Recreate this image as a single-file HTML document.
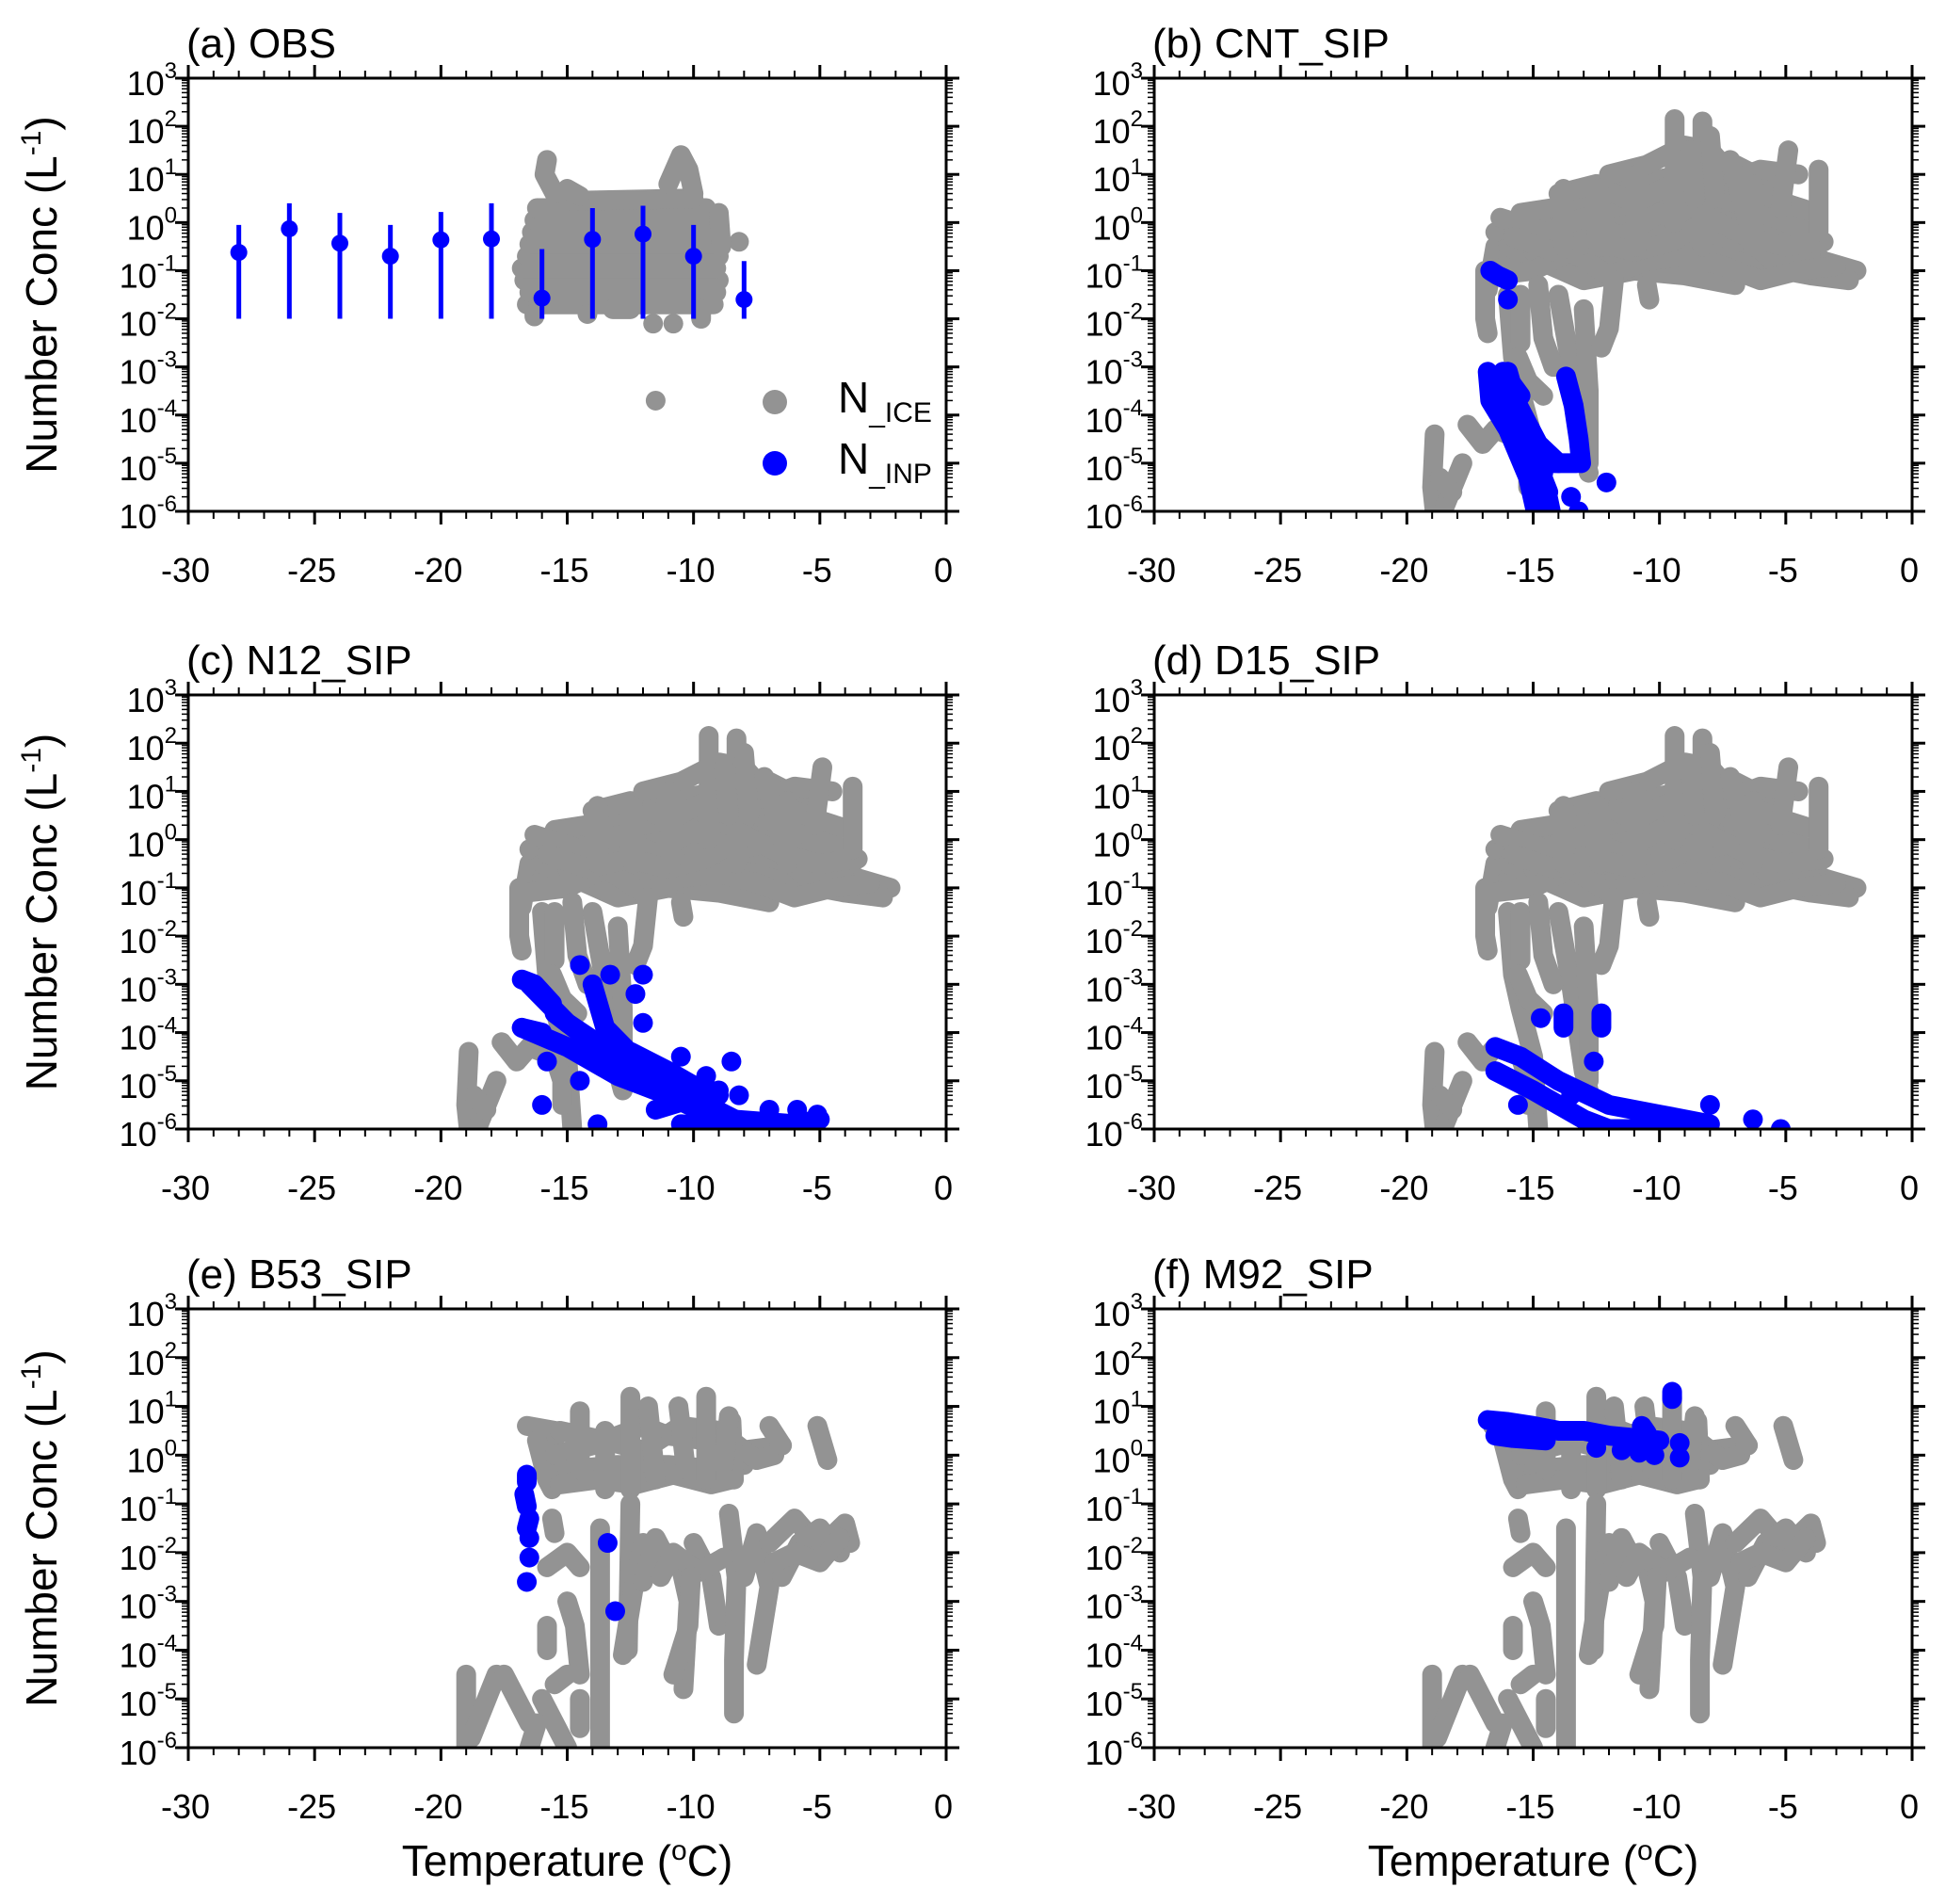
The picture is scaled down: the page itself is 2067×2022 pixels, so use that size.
<!DOCTYPE html>
<html><head><meta charset="utf-8">
<style>
html,body{margin:0;padding:0;background:#fff;}
svg{display:block;font-family:"Liberation Sans",Arial,sans-serif;}
</style></head>
<body>
<svg id="fig" width="2067" height="2022" viewBox="0 0 2067 2022" xmlns="http://www.w3.org/2000/svg"></svg>
<script>
// ---------- data (Temperature degC, log10 number conc L^-1) ----------
const xTicks = [-30,-25,-20,-15,-10,-5,0];
const yTicks = [3,2,1,0,-1,-2,-3,-4,-5,-6];
const panelTitles = ["(a) OBS","(b) CNT_SIP","(c) N12_SIP","(d) D15_SIP","(e) B53_SIP","(f) M92_SIP"];

// OBS INP error bars
const obsT = [-28,-26,-24,-22,-20,-18,-16,-14,-12,-10,-8];
const obsMid = [-0.62,-0.13,-0.43,-0.70,-0.36,-0.34,-1.57,-0.35,-0.24,-0.70,-1.60];
const obsHi = [-0.05,0.40,0.20,-0.05,0.22,0.40,-0.55,0.30,0.35,-0.05,-0.80];
const obsLo = [-2,-2,-2,-2,-2,-2,-2,-2,-2,-2,-2];

// OBS ice tracks
const iceObs = [
 [[-16.6,-1.7],[-9.2,-1.7]],[[-16.5,-1.45],[-9.1,-1.45]],[[-16.7,-1.2],[-9.0,-1.2]],
 [[-16.8,-0.95],[-9.1,-0.95]],[[-16.6,-0.7],[-9.0,-0.7]],[[-16.5,-0.45],[-9.2,-0.45]],
 [[-16.4,-0.2],[-9.3,-0.2]],[[-16.3,0.05],[-9.4,0.05]],[[-16.2,0.3],[-9.5,0.3]],
 [[-15.0,0.45],[-10.0,0.5]],[[-16.3,-1.95],[-16.3,-1.9]],[[-15.8,1.3],[-15.9,1.0],[-15.5,0.6]],
 [[-15.0,0.7],[-14.5,0.55]],[[-11.0,0.8],[-10.5,1.4],[-10.2,1.1],[-10.0,0.6]],
 [[-11.5,-3.7],[-11.5,-3.7]],[[-11.6,-2.1],[-11.6,-2.1]],[[-10.8,-2.1],[-10.8,-2.1]],
 [[-9.7,-2.0],[-9.7,-1.8]],[[-8.2,-0.4],[-8.2,-0.4]],[[-9.0,0.2],[-8.9,-0.5]],[[-14.2,-1.9],[-14.2,-1.9]],[[-13.2,-1.8],[-12.5,-1.8]]
];

// model ice tracks for b,c,d
const iceBCD = [
 [[-16.8,-1.4],[-16.5,-0.5],[-15,-0.3],[-13,-0.2],[-11,0],[-9,0.3],[-7,0.2],[-5,-0.3],[-3.5,-0.8],[-2.2,-1.0]],
 [[-16.5,-0.2],[-14,0.0],[-12,0.3],[-10,0.5],[-8,0.6],[-6,0.2],[-4,-0.2]],
 [[-16,-0.8],[-14,-0.9],[-12,-0.7],[-10,-0.4],[-8,-0.6],[-6,-0.9],[-4,-1.1],[-2.5,-1.2]],
 [[-15.5,0.2],[-13,0.4],[-11,0.8],[-9,1.0],[-7,1.2],[-5.5,0.8]],
 [[-16,-0.5],[-13,-1.2],[-11,-1.0],[-9,-1.1],[-7,-1.3]],
 [[-15,-0.6],[-12,-0.5],[-9,-0.1],[-6,-0.5],[-4.5,-0.7]],
 [[-16.3,0.1],[-14.5,-0.2],[-13,0.1],[-11.5,-0.3],[-10,0.2],[-8.5,-0.2],[-7,-0.1],[-5.5,-0.8],[-4,-0.6]],
 [[-16.6,-1.1],[-15,-1.0],[-13.5,-0.6],[-12,-1.1],[-10.5,-0.8],[-9,-0.7],[-7.5,-0.9],[-6,-1.2],[-4.5,-1.0],[-3,-0.9]],
 [[-14,0.6],[-12.5,0.8],[-11,0.4],[-9.5,0.8],[-8,1.0],[-6.5,0.7],[-5,0.4],[-3.8,0.2]],
 [[-12,1.0],[-10.5,1.2],[-9,1.6],[-8,1.5],[-7,0.9],[-6,1.1],[-4.5,1.0]],
 [[-15.8,-0.3],[-14.2,-0.6],[-12.5,-0.4],[-11,-0.6],[-9.5,-0.4],[-8,0.1],[-6.5,-0.3],[-5,-0.5],[-3.5,-0.4]],
 [[-9.4,2.15],[-9.4,0]],[[-8.3,2.1],[-8.3,-0.5]],[[-8,1.8],[-7.8,0.5]],[[-10.9,1.0],[-10.9,-0.5]],
 [[-13.8,0.7],[-13.8,-0.5]],[[-12.4,0.7],[-12.4,-0.5]],[[-7.2,1.3],[-6.5,0]],[[-4.9,1.5],[-5.2,0.3]],
 [[-3.7,1.1],[-3.7,-0.2]],[[-6.3,0.8],[-6.3,-0.5]],[[-8.8,1.5],[-8.6,0.5]],
 [[-16,-1.5],[-15.8,-2.8],[-15.5,-3.5],[-15,-4.5],[-14.8,-6]],
 [[-14,-1.5],[-13.5,-3.0],[-13,-4.8],[-12.8,-5.2]],
 [[-13,-1.8],[-12.8,-3.5],[-12.8,-5]],[[-15.5,-1.5],[-15.5,-2.5]],
 [[-14.8,-1.3],[-14.6,-2.4],[-14.2,-3.0]],[[-15.6,-2.8],[-15.2,-3.3],[-14.6,-3.6]],
 [[-11.8,-1.2],[-12,-2.2],[-12.3,-2.6]],[[-16.9,-1.0],[-16.9,-2.0],[-16.8,-2.3]],
 [[-10.5,-1.3],[-10.4,-1.6]],
 [[-18.9,-4.4],[-19,-5.5],[-18.9,-6]],[[-18.5,-5.9],[-17.8,-5.0]],
 [[-17.6,-4.2],[-17,-4.6],[-16.5,-4.3],[-15.5,-4.5],[-15.2,-5.0],[-15.2,-5.5]],
 [[-18.7,-5.3],[-18.2,-5.6]]
];

// model ice tracks for e,f
const iceEF = [
 [[-16.6,0.6],[-15.5,0.5],[-15.5,-0.5]],[[-16.2,0.3],[-15.8,-0.5],[-15.6,-0.7]],
 [[-15.5,0.0],[-14,0.2],[-12,0.6],[-11,0.4],[-9.5,0.3],[-8,0.1],[-6.5,0.2]],
 [[-15,-0.3],[-13,-0.2],[-11,-0.2],[-9,-0.3],[-8,-0.2]],
 [[-15.3,0.5],[-13.5,0.3],[-12,0.1],[-10.5,0.6],[-9,0.5],[-7.5,-0.1],[-6.8,0.0]],
 [[-15.3,-0.6],[-13.8,-0.5],[-12.3,-0.6],[-10.8,-0.4],[-9.3,-0.6],[-8.5,-0.5]],
 [[-14.5,0.9],[-14.5,-0.3]],[[-12.5,1.2],[-12.5,-0.7]],[[-11.8,1.0],[-11.5,-0.5]],
 [[-9.5,1.2],[-9.5,-0.5]],[[-10.6,1.0],[-10.3,-0.3]],[[-8.5,0.7],[-8.4,-0.5]],
 [[-7,0.6],[-6.5,0.2]],[[-5.1,0.6],[-4.7,-0.1]],[[-13.5,0.5],[-13.5,-0.7]],[[-8.6,0.8],[-8.8,-0.2]],
 [[-13.7,-1.5],[-13.7,-6]],[[-12.5,-1.0],[-12.6,-4.0]],[[-12,-1.8],[-12.3,-2.5],[-12.8,-4.1]],
 [[-12,-2.6],[-11.5,-1.7],[-11,-2.2],[-10.5,-2.3],[-10.2,-3.0],[-10.4,-4.8]],
 [[-10,-1.8],[-9.3,-2.5],[-9,-3.5]],[[-8.6,-1.2],[-8.3,-2.5],[-8.4,-4.2],[-8.4,-5.3]],
 [[-8,-2.5],[-7.5,-1.6],[-7,-2.7],[-7.5,-4.3]],
 [[-7,-1.8],[-6,-1.3],[-5,-1.9],[-4,-1.4],[-3.8,-1.8]],[[-6.5,-2.5],[-5.8,-1.8],[-5,-1.5],[-4.2,-2.0]],
 [[-6.8,-2.2],[-6,-2.0],[-5,-2.2],[-4.2,-1.7]],[[-11.3,-2.5],[-10.8,-2.0],[-9.8,-2.4],[-8.8,-2.1]],
 [[-15.8,-2.3],[-15,-2.0],[-14.5,-2.3]],[[-15.6,-1.3],[-15.5,-1.6]],[[-15,-3.0],[-14.7,-3.5],[-14.5,-4.5]],
 [[-15.8,-3.5],[-15.8,-4.0]],[[-15.5,-4.7],[-15.0,-4.5]],[[-10.8,-4.5],[-10.2,-3.5],[-10.1,-2.5]],
 [[-19,-4.5],[-19,-6]],[[-18.8,-5.8],[-17.8,-4.5]],[[-17.5,-4.5],[-16.5,-5.5]],[[-16,-5],[-15,-6]],
 [[-16.2,-5.5],[-16.5,-6]],[[-14.5,-5.0],[-14.5,-5.6]]
];

// INP tracks / points
const inpB = [
 [[-16.7,-1.0],[-16.4,-1.1],[-16.0,-1.2]],[[-16.0,-1.6],[-16.0,-1.6]],
 [[-16.8,-3.1],[-16.7,-3.7],[-16,-4.3],[-15.2,-5.3],[-14.9,-6]],
 [[-16,-3.1],[-15.3,-4.4],[-14.6,-5.2]],[[-16.2,-3.1],[-15.5,-3.6]],
 [[-16.5,-3.3],[-15.8,-4.0],[-15.0,-4.8],[-14.4,-5.6]],[[-15.6,-3.8],[-14.8,-4.6],[-14.0,-5.0]],
 [[-13.7,-3.2],[-13.4,-3.8],[-13.2,-4.5],[-13.1,-5.0]],[[-14.2,-5.0],[-13.3,-5.0]],
 [[-14.5,-5.5],[-14.3,-6]],[[-12.1,-5.4],[-12.1,-5.4]],[[-14.8,-5.6],[-14.8,-5.6]],
 [[-13.5,-5.7],[-13.5,-5.7]],[[-13.2,-6],[-13.2,-6]]
];
const inpC = [
 [[-16.8,-2.9],[-16.3,-3.0],[-15.6,-3.4]],[[-16.8,-3.9],[-16,-4.0]],
 [[-16.8,-3.9],[-15,-4.3],[-13,-4.9],[-11,-5.3],[-9,-5.8],[-7,-6]],
 [[-16.5,-3.0],[-15,-3.8],[-13,-4.5],[-11,-5.0],[-9.5,-5.5],[-8,-5.9]],
 [[-14,-3.0],[-13.5,-3.9],[-12,-4.7],[-10,-5.5],[-8.5,-5.8],[-6,-5.9],[-5,-5.8]],
 [[-15.5,-3.6],[-14,-4.2],[-12.5,-4.4],[-11,-4.8],[-10,-5.1],[-9,-5.3]],
 [[-10.5,-5.9],[-8,-6]],[[-11.5,-5.6],[-9,-5.2]],
 [[-13.3,-2.8],[-13.3,-2.8]],[[-12,-2.8],[-12,-2.8]],[[-12.3,-3.2],[-12.3,-3.2]],[[-14.5,-2.6],[-14.5,-2.6]],
 [[-12,-3.8],[-12,-3.8]],[[-9.5,-4.9],[-9.5,-4.9]],[[-8.2,-5.3],[-8.2,-5.3]],[[-7,-5.6],[-7,-5.6]],
 [[-5.9,-5.6],[-5.9,-5.6]],[[-5.1,-5.7],[-5.1,-5.7]],[[-16,-5.5],[-16,-5.5]],[[-14.5,-5.0],[-14.5,-5.0]],
 [[-13.8,-5.9],[-13.8,-5.9]],[[-15.8,-4.6],[-15.8,-4.6]],[[-8.5,-4.6],[-8.5,-4.6]],[[-10.5,-4.5],[-10.5,-4.5]]
];
const inpD = [
 [[-16.5,-4.3],[-15.5,-4.5],[-14,-5.0],[-12,-5.5],[-10,-5.7],[-8,-5.9]],
 [[-16.5,-4.8],[-15,-5.2],[-13,-5.8],[-12,-6]],[[-12.8,-6],[-9,-6]],
 [[-14.7,-3.7],[-14.7,-3.7]],[[-13.8,-3.6],[-13.8,-3.9]],[[-12.3,-3.6],[-12.3,-3.9]],
 [[-12.6,-4.6],[-12.6,-4.6]],[[-15.6,-5.5],[-15.6,-5.5]],[[-13.5,-5.3],[-13.5,-5.3]],
 [[-6.3,-5.8],[-6.3,-5.8]],[[-5.2,-6],[-5.2,-6]],[[-8,-5.5],[-8,-5.5]]
];
const inpE = [
 [[-16.6,-0.4],[-16.6,-0.55]],[[-16.7,-0.8],[-16.6,-1.05]],[[-16.5,-1.3],[-16.6,-1.5]],
 [[-16.5,-1.7],[-16.5,-1.7]],[[-16.5,-2.1],[-16.5,-2.1]],[[-16.6,-2.6],[-16.6,-2.6]],
 [[-13.4,-1.8],[-13.4,-1.8]],[[-13.1,-3.2],[-13.1,-3.2]]
];
const inpF = [
 [[-16.8,0.72],[-16,0.68],[-15,0.6],[-14,0.5],[-13,0.5],[-12,0.4],[-11,0.35],[-10,0.3]],
 [[-16.5,0.4],[-15.8,0.35],[-14.5,0.3]],[[-12.5,0.15],[-12.5,0.15]],[[-11.5,0.1],[-11.5,0.1]],
 [[-10.8,0.05],[-10.8,0.05]],[[-10.2,0],[-10.2,0]],[[-9.2,-0.05],[-9.2,-0.05]],
 [[-9.5,1.3],[-9.5,1.15]],[[-9.2,0.25],[-9.2,0.25]],[[-10.7,0.6],[-10.5,0.45]],[[-14.5,0.55],[-14.5,0.55]]
];

const iceSets = [iceObs, iceBCD, iceBCD, iceBCD, iceEF, iceEF];
const inpSets = [null, inpB, inpC, inpD, inpE, inpF];

// ---------- layout ----------
const NS = "http://www.w3.org/2000/svg";
const svg = document.getElementById('fig');
const colX = [200, 1226], W = 805;
const rowY = [[83,543],[738,1199],[1390,1856]];
const GRAY = "#939393", BLUE = "#0000ff", DOT = 21;

function mk(tag, attrs, parent){
  const e = document.createElementNS(NS, tag);
  for (const k in attrs) e.setAttribute(k, attrs[k]);
  (parent||svg).appendChild(e); return e;
}

for (let p = 0; p < 6; p++) {
  const col = p % 2, row = Math.floor(p / 2);
  const x0 = colX[col], x1 = x0 + W, y0 = rowY[row][0], y1 = rowY[row][1];
  const sx = t => x0 + (t + 30) / 30 * W;
  const sy = l => y1 - (l + 6) / 9 * (y1 - y0);
  const g = mk('g', {});
  
  

  const clip = mk('clipPath', {id: 'clip' + p}, g);
  mk('rect', {x: x0, y: y0, width: W, height: y1 - y0}, clip);
  const plot = mk('g', {'clip-path': 'url(#clip' + p + ')'}, g);

  iceSets[p].forEach(tr => {
    const pl = mk('polyline', {points: tr.map(q => sx(q[0]) + ',' + sy(q[1])).join(' '),
      fill: 'none', stroke: GRAY, 'stroke-width': DOT, 'stroke-linecap': 'round', 'stroke-linejoin': 'round'}, plot);
    
    
  });
  if (p === 0) {
    obsT.forEach((t, i) => {
      const ln = mk('line', {x1: sx(t), x2: sx(t), y1: sy(obsLo[i]), y2: sy(obsHi[i]), stroke: BLUE, 'stroke-width': 5}, plot);
      
      
      const c = mk('circle', {cx: sx(t), cy: sy(obsMid[i]), r: 9, fill: BLUE}, plot);
      
      
    });
  } else {
    inpSets[p].forEach(tr => {
      const pl = mk('polyline', {points: tr.map(q => sx(q[0]) + ',' + sy(q[1])).join(' '),
        fill: 'none', stroke: BLUE, 'stroke-width': DOT, 'stroke-linecap': 'round', 'stroke-linejoin': 'round'}, plot);
      
      
    });
  }

  const fr = mk('rect', {x: x0, y: y0, width: W, height: y1 - y0, fill: 'none', stroke: '#000', 'stroke-width': 3}, g);
  
  

  for (let t = -30; t <= 0; t++) {
    const maj = t % 5 === 0, L = maj ? 14 : 8, X = sx(t);
    mk('line', {x1: X, x2: X, y1: y1, y2: y1 + L, stroke: '#000', 'stroke-width': maj ? 3 : 2}, g);
    mk('line', {x1: X, x2: X, y1: y0, y2: y0 - L, stroke: '#000', 'stroke-width': maj ? 3 : 2}, g);
  }
  xTicks.forEach(t => {
    const tx = mk('text', {x: sx(t) - 3, y: y1 + 75, 'font-size': 36, 'text-anchor': 'middle', fill: '#000'}, g);
    tx.textContent = String(t);
    
    
  });
  for (let d = -6; d <= 3; d++) {
    const Y = sy(d);
    mk('line', {x1: x0, x2: x0 - 14, y1: Y, y2: Y, stroke: '#000', 'stroke-width': 3}, g);
    mk('line', {x1: x1, x2: x1 + 14, y1: Y, y2: Y, stroke: '#000', 'stroke-width': 3}, g);
    if (d < 3) for (let m = 2; m <= 9; m++) {
      const Ym = sy(d + Math.log10(m));
      mk('line', {x1: x0, x2: x0 - 7, y1: Ym, y2: Ym, stroke: '#000', 'stroke-width': 1.5}, g);
      mk('line', {x1: x1, x2: x1 + 7, y1: Ym, y2: Ym, stroke: '#000', 'stroke-width': 1.5}, g);
    }
  }
  yTicks.forEach(d => {
    const tx = mk('text', {x: x0 - 12, y: sy(d) + 18, 'font-size': 36, 'text-anchor': 'end', fill: '#000'}, g);
    
    
    const a = mk('tspan', {}, tx); a.textContent = '10';
    const b = mk('tspan', {'font-size': 24, dy: -18}, tx); b.textContent = String(d);
  });

  const tt = mk('text', {x: x0 - 2, y: y0 - 22, 'font-size': 44, fill: '#000'}, g);
  tt.textContent = panelTitles[p];
  
  

  if (col === 0) {
    const cy = (y0 + y1) / 2;
    const yt = mk('text', {x: 0, y: 0, 'font-size': 46, 'text-anchor': 'middle', fill: '#000',
      transform: 'translate(60,' + cy + ') rotate(-90)'}, g);
    
    
    const s1 = mk('tspan', {}, yt); s1.textContent = 'Number Conc (L';
    const s2 = mk('tspan', {'font-size': 30, dy: -17}, yt); s2.textContent = '-1';
    const s3 = mk('tspan', {dy: 17}, yt); s3.textContent = ')';
  }
  if (row === 2) {
    const xt = mk('text', {x: (x0 + x1) / 2, y: 1992, 'font-size': 46, 'text-anchor': 'middle', fill: '#000'}, g);
    
    
    const s1 = mk('tspan', {}, xt); s1.textContent = 'Temperature (';
    const s2 = mk('tspan', {'font-size': 30, dy: -17}, xt); s2.textContent = 'o';
    const s3 = mk('tspan', {dy: 17}, xt); s3.textContent = 'C)';
  }
}

const lg = mk('g', {});


[[GRAY, 427, 'ICE'], [BLUE, 492, 'INP']].forEach(e => {
  const c = mk('circle', {cx: 823, cy: e[1], r: 13, fill: e[0]}, lg);
  
  
  const t = mk('text', {x: 890, y: e[1] + 11, 'font-size': 46, fill: '#000'}, lg);
  
  
  const a = mk('tspan', {}, t); a.textContent = 'N';
  const b = mk('tspan', {'font-size': 30, dy: 10}, t); b.textContent = '_' + e[2];
});
</script>
</body></html>
